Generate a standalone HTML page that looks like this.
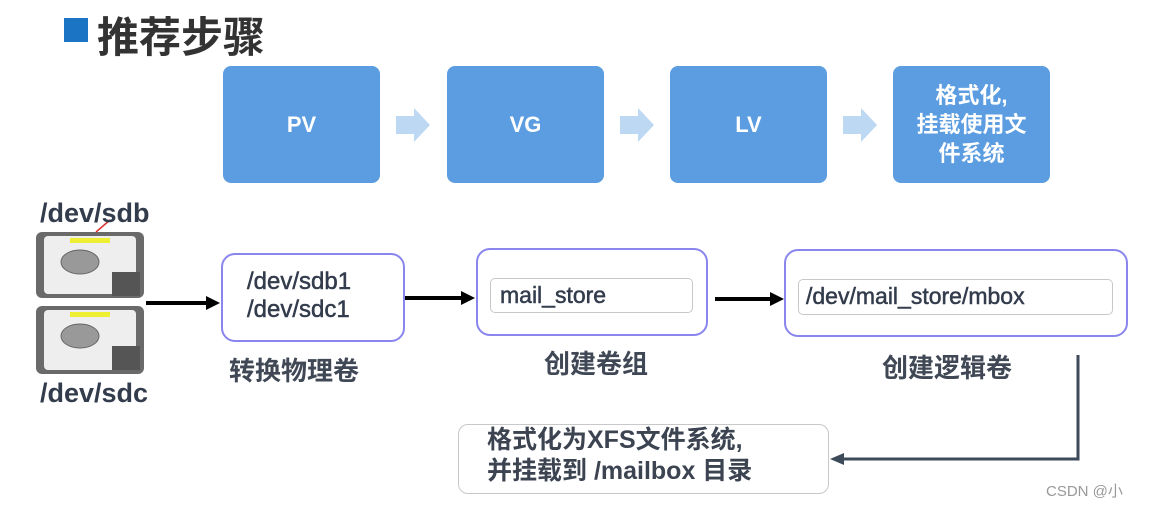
<!DOCTYPE html>
<html><head><meta charset="utf-8"><style>
body{margin:0;width:1158px;height:508px;background:#fff;position:relative;overflow:hidden;font-family:"Liberation Sans","Noto Sans CJK SC",sans-serif;}
.a{position:absolute;}
.top{position:absolute;top:66px;width:157px;height:117px;background:#5b9de0;border-radius:8px;color:#fff;font-weight:bold;font-size:22px;display:flex;align-items:center;justify-content:center;text-align:center;line-height:29px;}
.box{position:absolute;border:2px solid #8a86ee;border-radius:14px;box-sizing:border-box;}
.inner{position:absolute;border:1.5px solid #c8c8c8;border-radius:5px;box-sizing:border-box;font-size:23px;color:#333c4c;padding-left:9px;line-height:32px;-webkit-text-stroke:0.5px #333c4c;}
.lbl{position:absolute;font-size:26px;font-weight:bold;color:#404856;}
.t{color:#333c4c;font-size:23px;-webkit-text-stroke:0.5px #333c4c;}
</style></head><body>
<div class="a" style="left:64px;top:18px;width:24px;height:24px;background:#1c74c4"></div>
<div class="a" style="left:97px;top:4px;font-size:42px;font-weight:bold;color:#333">推荐步骤</div>

<div class="top" style="left:223px">PV</div>
<div class="top" style="left:447px">VG</div>
<div class="top" style="left:670px">LV</div>
<div class="top" style="left:893px">格式化,<br>挂载使用文<br>件系统</div>
<svg class="a" style="left:0;top:0" width="1158" height="508">
<g fill="#bcd8f3">
<polygon points="396,116 414,116 414,108 430,125 414,142 414,134 396,134"/>
<polygon points="620,116 638,116 638,108 654,125 638,142 638,134 620,134"/>
<polygon points="843,116 861,116 861,108 877,125 861,142 861,134 843,134"/>
</g>
<g stroke="#000" stroke-width="4"><line x1="146" y1="303" x2="208" y2="303"/><line x1="405" y1="298" x2="462" y2="298"/><line x1="715" y1="299" x2="771" y2="299"/></g>
<g fill="#000"><polygon points="220,303 206,296 206,310"/><polygon points="475,298 461,291 461,305"/><polygon points="784,299 770,292 770,306"/></g>
<polyline points="1078,355 1078,459 842,459" fill="none" stroke="#3d4a5a" stroke-width="3"/>
<polygon points="830,459 844,453 844,465" fill="#3d4a5a"/>
<g>
<rect x="36" y="232" width="108" height="66" rx="6" fill="#6a6a6a"/>
<rect x="44" y="236" width="92" height="58" rx="4" fill="#eee"/>
<rect x="112" y="272" width="28" height="24" fill="#555"/>
<ellipse cx="80" cy="262" rx="19" ry="12" fill="#999" stroke="#666"/>
<rect x="70" y="238" width="40" height="5" fill="#ee3"/>
<rect x="36" y="306" width="108" height="68" rx="6" fill="#6a6a6a"/>
<rect x="44" y="310" width="92" height="60" rx="4" fill="#eee"/>
<rect x="112" y="346" width="28" height="24" fill="#555"/>
<ellipse cx="80" cy="336" rx="19" ry="12" fill="#999" stroke="#666"/>
<rect x="70" y="312" width="40" height="5" fill="#ee3"/>
<line x1="110" y1="220" x2="96" y2="232" stroke="#d33" stroke-width="1.5"/>
</g>
</svg>
<div class="a" style="left:40px;top:198px;font-size:27px;font-weight:bold;color:#333c4c">/dev/sdb</div>
<div class="a" style="left:40px;top:378px;font-size:27px;font-weight:bold;color:#333c4c">/dev/sdc</div>

<div class="box" style="left:221px;top:253px;width:184px;height:89px"></div>
<div class="a t" style="left:247px;top:268px;line-height:28px;font-size:24px">/dev/sdb1<br>/dev/sdc1</div>
<div class="lbl" style="left:229px;top:351px">转换物理卷</div>

<div class="box" style="left:476px;top:248px;width:232px;height:88px"></div>
<div class="inner" style="left:490px;top:278px;width:203px;height:35px">mail_store</div>
<div class="lbl" style="left:544px;top:344px">创建卷组</div>

<div class="box" style="left:784px;top:249px;width:344px;height:88px"></div>
<div class="inner" style="left:798px;top:279px;width:315px;height:36px;padding-left:7px">/dev/mail_store/mbox</div>
<div class="lbl" style="left:882px;top:348px">创建逻辑卷</div>

<div class="a" style="left:458px;top:424px;width:371px;height:70px;border:1.5px solid #c8c8c8;border-radius:10px;box-sizing:border-box"></div>
<div class="a" style="left:487px;top:425px;font-size:25px;font-weight:bold;color:#3c4452;line-height:31px">格式化为XFS文件系统,<br>并挂载到 /mailbox 目录</div>
<div class="a" style="left:1046px;top:480px;font-size:15px;color:#999">CSDN @小</div>
</body></html>
